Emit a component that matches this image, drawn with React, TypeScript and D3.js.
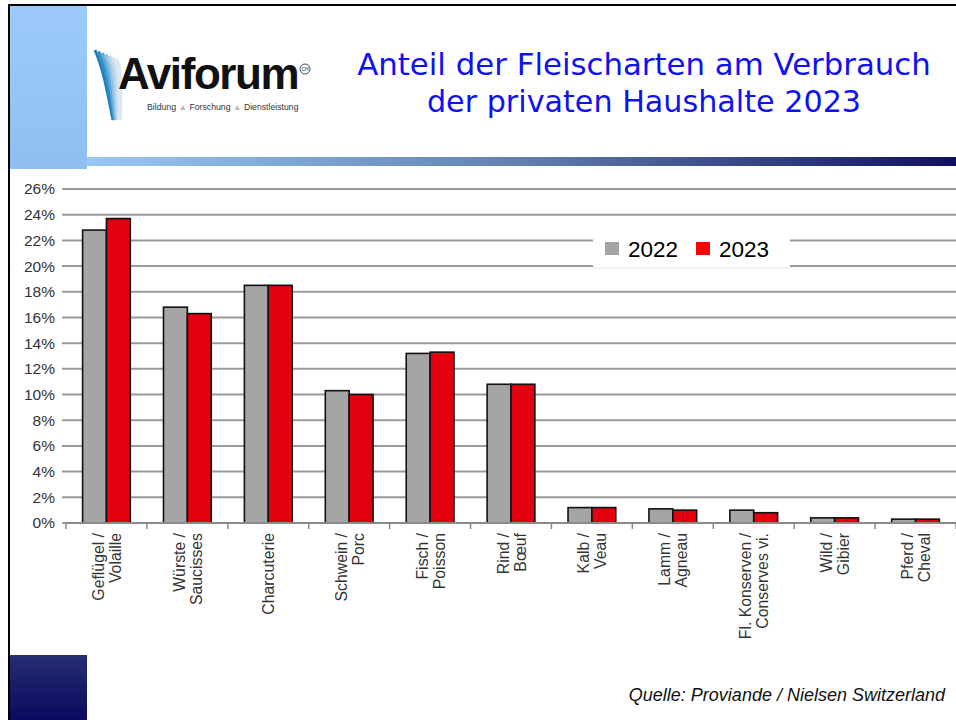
import React from "react";
import * as d3 from "d3";

const categories: string[][] = [
  ["Geflügel /", "Volaille"],
  ["Würste /", "Saucisses"],
  ["Charcuterie"],
  ["Schwein /", "Porc"],
  ["Fisch /", "Poisson"],
  ["Rind /", "Bœuf"],
  ["Kalb /", "Veau"],
  ["Lamm /", "Agneau"],
  ["Fl. Konserven /", "Conserves vi."],
  ["Wild /", "Gibier"],
  ["Pferd /", "Cheval"],
];
const series = ["2022", "2023"];
const values2022 = [22.8, 16.8, 18.5, 10.3, 13.2, 10.8, 1.2, 1.1, 1.0, 0.4, 0.3];
const values2023 = [23.7, 16.3, 18.5, 10.0, 13.3, 10.8, 1.2, 1.0, 0.8, 0.4, 0.3];
const yTicks = [0, 2, 4, 6, 8, 10, 12, 14, 16, 18, 20, 22, 24, 26];
const titleLines = ["Anteil der Fleischarten am Verbrauch", "der privaten Haushalte 2023"];
const sourceText = "Quelle: Proviande / Nielsen Switzerland";

const colors = ["#a5a5a5", "#e3000f"];

export default function App() {
  const W = 956;
  const H = 720;
  const left = 66;
  const right = 956;
  const y0 = 523;
  const yTop = 189;
  const keys = categories.map((c) => c.join(" "));
  const x = d3.scaleBand<string>().domain(keys).range([left, right]).padding(0);
  const y = d3.scaleLinear().domain([0, 26]).range([y0, yTop]);
  const bw = x.bandwidth();
  const groupW = bw * 0.59;
  const inner = d3.scaleBand<string>().domain(series).range([0, groupW]).padding(0);
  const data = [values2022, values2023];
  const font = "'Liberation Sans', Arial, sans-serif";

  return (
    <svg width={W} height={H} style={{ position: "absolute", left: 0, top: 0 }}>
      <defs>
        <linearGradient id="topbar" x1="0" x2="1" y1="0" y2="0">
          <stop offset="0" stopColor="#99c8f5" />
          <stop offset="0.5" stopColor="#6080b0" />
          <stop offset="1" stopColor="#101060" />
        </linearGradient>
        <linearGradient id="leftpanel" x1="0" x2="0" y1="0" y2="1">
          <stop offset="0" stopColor="#9ccbfb" />
          <stop offset="1" stopColor="#8ebff0" />
        </linearGradient>
        <linearGradient id="navy" x1="0" x2="0" y1="0" y2="1">
          <stop offset="0" stopColor="#262d72" />
          <stop offset="1" stopColor="#0a0a5e" />
        </linearGradient>
      </defs>
      <rect x={0} y={0} width={W} height={H} fill="#ffffff" />
      {/* frame */}
      <rect x={8} y={4} width={W - 8} height={2} fill="#000" />
      <rect x={8} y={4} width={2} height={H - 4} fill="#000" />
      <rect x={10} y={6} width={77} height={163} fill="url(#leftpanel)" />
      <rect x={87} y={157} width={W - 87} height={9} fill="url(#topbar)" />
      <rect x={10} y={655} width={77} height={65} fill="url(#navy)" />

      {/* logo */}
      <g>
        {[0, 1, 2, 3, 4, 5, 6].map((i) => (
          <path
            key={i}
            d={`M${95 + i * 3.5},${50 + i * 1.5} C${104 + i * 3},${70} ${108 + i * 2},${95} ${113 + i * 1.2},${120}`}
            fill="none"
            stroke={["#1f7fb8", "#2f8fc8", "#5aa8d8", "#8dc0e2", "#b3d3ea", "#cfe0ee", "#dde9f2"][i]}
            strokeWidth={i < 2 ? 3 : 4}
          />
        ))}
        <text x={118} y={89} fontFamily={font} fontWeight="bold" fontSize={44} letterSpacing={-1.4} fill="#111">
          Aviforum
        </text>
        <circle cx={305} cy={69} r={5} fill="none" stroke="#222" strokeWidth={0.8} />
        <text x={305} y={71} fontFamily={font} fontSize={5} textAnchor="middle" fill="#222">CH</text>
        <text x={147} y={110} fontFamily={font} fontSize={8.7} fill="#333">
          Bildung <tspan fill="#bbb">▲</tspan> Forschung <tspan fill="#bbb">▲</tspan> Dienstleistung
        </text>
      </g>

      {/* title */}
      {titleLines.map((t, i) => (
        <text
          key={i}
          x={644}
          y={75 + i * 37}
          textAnchor="middle"
          fontFamily="'DejaVu Sans', sans-serif"
          fontSize={i === 0 ? 30.8 : 30.2}
          fill="#1010f5"
        >
          {t}
        </text>
      ))}

      {/* gridlines */}
      {yTicks.map((t) => (
        <g key={t}>
          <line x1={left - 4} x2={right} y1={y(t)} y2={y(t)} stroke="#9a9a9a" strokeWidth={2} />
          <text
            x={55}
            y={y(t)}
            dy="0.35em"
            textAnchor="end"
            fontFamily={font}
            fontSize={15.5}
            fill="#333"
          >
            {t}%
          </text>
        </g>
      ))}

      {/* legend */}
      <rect x={593} y={231} width={197} height={37} fill="#ffffff" />
      <line x1={593} x2={790} y1={268} y2={268} stroke="#e2e2e2" strokeWidth={1} />
      {series.map((s, i) => (
        <g key={s} transform={`translate(${605 + i * 91},242)`}>
          <rect x={0} y={0} width={14} height={13} fill={i === 0 ? "#a5a5a5" : "#ff0000"} />
          <text x={23} y={14.5} fontFamily={font} fontSize={22.5} fill="#000">
            {s}
          </text>
        </g>
      ))}

      {/* bars */}
      {keys.map((k, ci) => (
        <g key={k} transform={`translate(${(x(k) as number) + (bw - groupW) / 2},0)`}>
          {series.map((s, si) => {
            const v = data[si][ci];
            return (
              <rect
                key={s}
                x={inner(s) as number}
                y={y(v)}
                width={inner.bandwidth()}
                height={y0 - y(v)}
                fill={colors[si]}
                stroke="#111"
                strokeWidth={1.6}
              />
            );
          })}
        </g>
      ))}

      {/* x axis */}
      <line x1={left} x2={right} y1={y0} y2={y0} stroke="#8a8a8a" strokeWidth={2} />
      {d3.range(keys.length + 1).map((i) => (
        <line
          key={i}
          x1={left + i * bw}
          x2={left + i * bw}
          y1={y0}
          y2={y0 + 6}
          stroke="#8a8a8a"
          strokeWidth={1.5}
        />
      ))}
      {keys.map((k, ci) => {
        const lines = categories[ci];
        const cx = (x(k) as number) + bw / 2;
        const lh = 17;
        return (
          <g key={k}>
            {lines.map((l, li) => {
              const off = (li - (lines.length - 1) / 2) * lh;
              return (
                <text
                  key={li}
                  transform={`translate(${cx + off + 6},${533}) rotate(-90)`}
                  textAnchor="end"
                  fontFamily={font}
                  fontSize={15.8}
                  fill="#333"
                >
                  {l}
                </text>
              );
            })}
          </g>
        );
      })}

      <text
        x={945}
        y={701}
        textAnchor="end"
        fontFamily={font}
        fontStyle="italic"
        fontSize={18}
        fill="#111"
      >
        {sourceText}
      </text>
    </svg>
  );
}
